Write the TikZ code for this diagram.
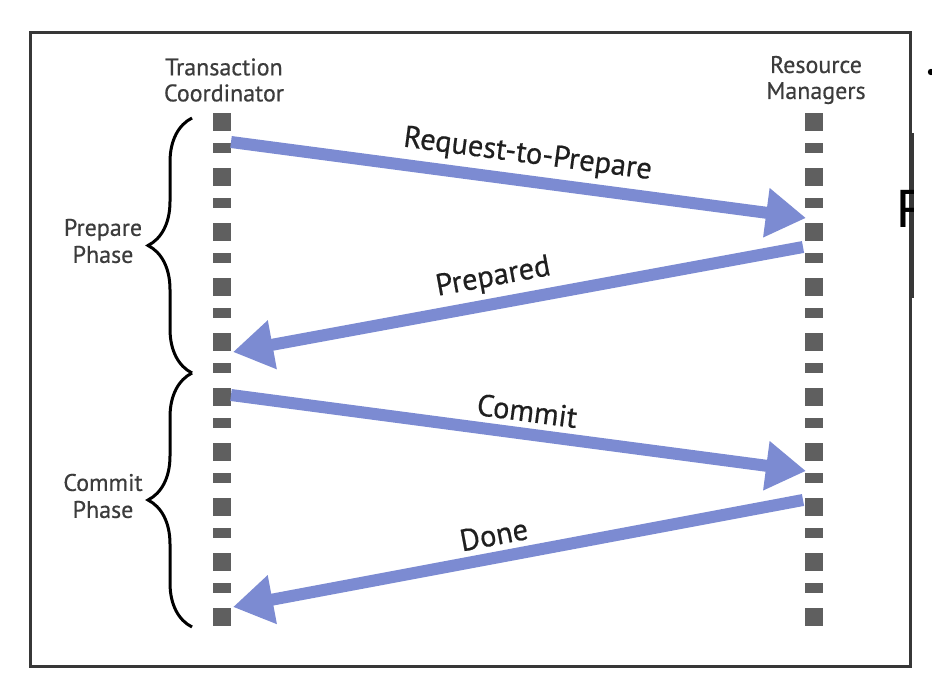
\documentclass[tikz,border=0pt]{standalone}
\usepackage{fontspec}
\setmainfont{PT Sans}
\newfontfamily\labelfont[FakeBold=0.5]{PT Sans}
\newfontfamily\arialfont{Liberation Sans}
\usetikzlibrary{arrows.meta,decorations.pathreplacing}
\definecolor{msgblue}{RGB}{124,139,210}
\definecolor{lifegray}{RGB}{95,95,95}
\definecolor{framegray}{RGB}{55,55,55}
\definecolor{textgray}{RGB}{60,60,60}
\begin{document}
\begin{tikzpicture}[x=1pt,y=-1pt,
  lifeline/.style={draw=lifegray, line width=18pt, dash pattern=on 18pt off 12pt on 10pt off 15pt},
  msg/.style={draw=msgblue, line width=12pt, -{Triangle[length=40pt 0 0,width=47pt 0 0]}},
  msglabel/.style={sloped, above=6pt, inner sep=0pt, text=black!88, font=\labelfont\fontsize{30.5}{33}\selectfont},
  header/.style={align=center, inner sep=0pt, text=textgray, font=\labelfont\fontsize{24}{26}\selectfont},
  phase/.style={align=center, inner sep=0pt, text=textgray, font=\labelfont\fontsize{24}{27}\selectfont},
  bracestyle/.style={draw=black, line width=3pt, decorate, decoration={brace, amplitude=44pt, aspect=0.5}}]
\useasboundingbox (0,0) rectangle (932,688);
\fill[white] (0,0) rectangle (932,688);
% frame
\draw[framegray, line width=3pt] (30,32) rectangle (910,666);
\draw[framegray, line width=2.5pt] (913,133) -- (913,298);
\fill[black] (931,72) circle (3.2pt);
\begin{scope}
  \clip (880,150) rectangle (913,250);
  \node[anchor=base west, inner sep=0pt, font=\arialfont\fontsize{54}{54}\selectfont] (fcut) at (896,227) {F};
\end{scope}
% headers
\node[header] (tc) at (224,80) {Transaction\\Coordinator};
\node[header] (rm) at (816,80) {Resource\\Managers};
% lifelines
\coordinate (tctop) at (222,113);
\coordinate (tcbot) at (222,628);
\coordinate (rmtop) at (814,113);
\coordinate (rmbot) at (814,628);
\draw[lifeline] (tctop) -- (tcbot);
\draw[lifeline] (rmtop) -- (rmbot);
% message end points
\coordinate (a1s) at (231,142);
\coordinate (a1e) at (806,218);
\coordinate (a2s) at (803,247);
\coordinate (a2e) at (233,352);
\coordinate (a3s) at (231,395);
\coordinate (a3e) at (806,471);
\coordinate (a4s) at (803,500);
\coordinate (a4e) at (233,607);
\draw[msg] (a1s) -- node[msglabel, pos=0.51] (l1) {Request-to-Prepare} (a1e);
\draw[msg] (a2s) -- node[msglabel, pos=0.535] (l2) {Prepared} (a2e);
\draw[msg] (a3s) -- node[msglabel, pos=0.51] (l3) {Commit} (a3e);
\draw[msg] (a4s) -- node[msglabel, pos=0.535] (l4) {Done} (a4e);
% braces
\draw[bracestyle] (192,373) -- (192,118);
\draw[bracestyle] (192,627) -- (192,373);
\node[phase] (pp) at (103,241) {Prepare\\Phase};
\node[phase] (cp) at (103,496) {Commit\\Phase};
\end{tikzpicture}
\end{document}
